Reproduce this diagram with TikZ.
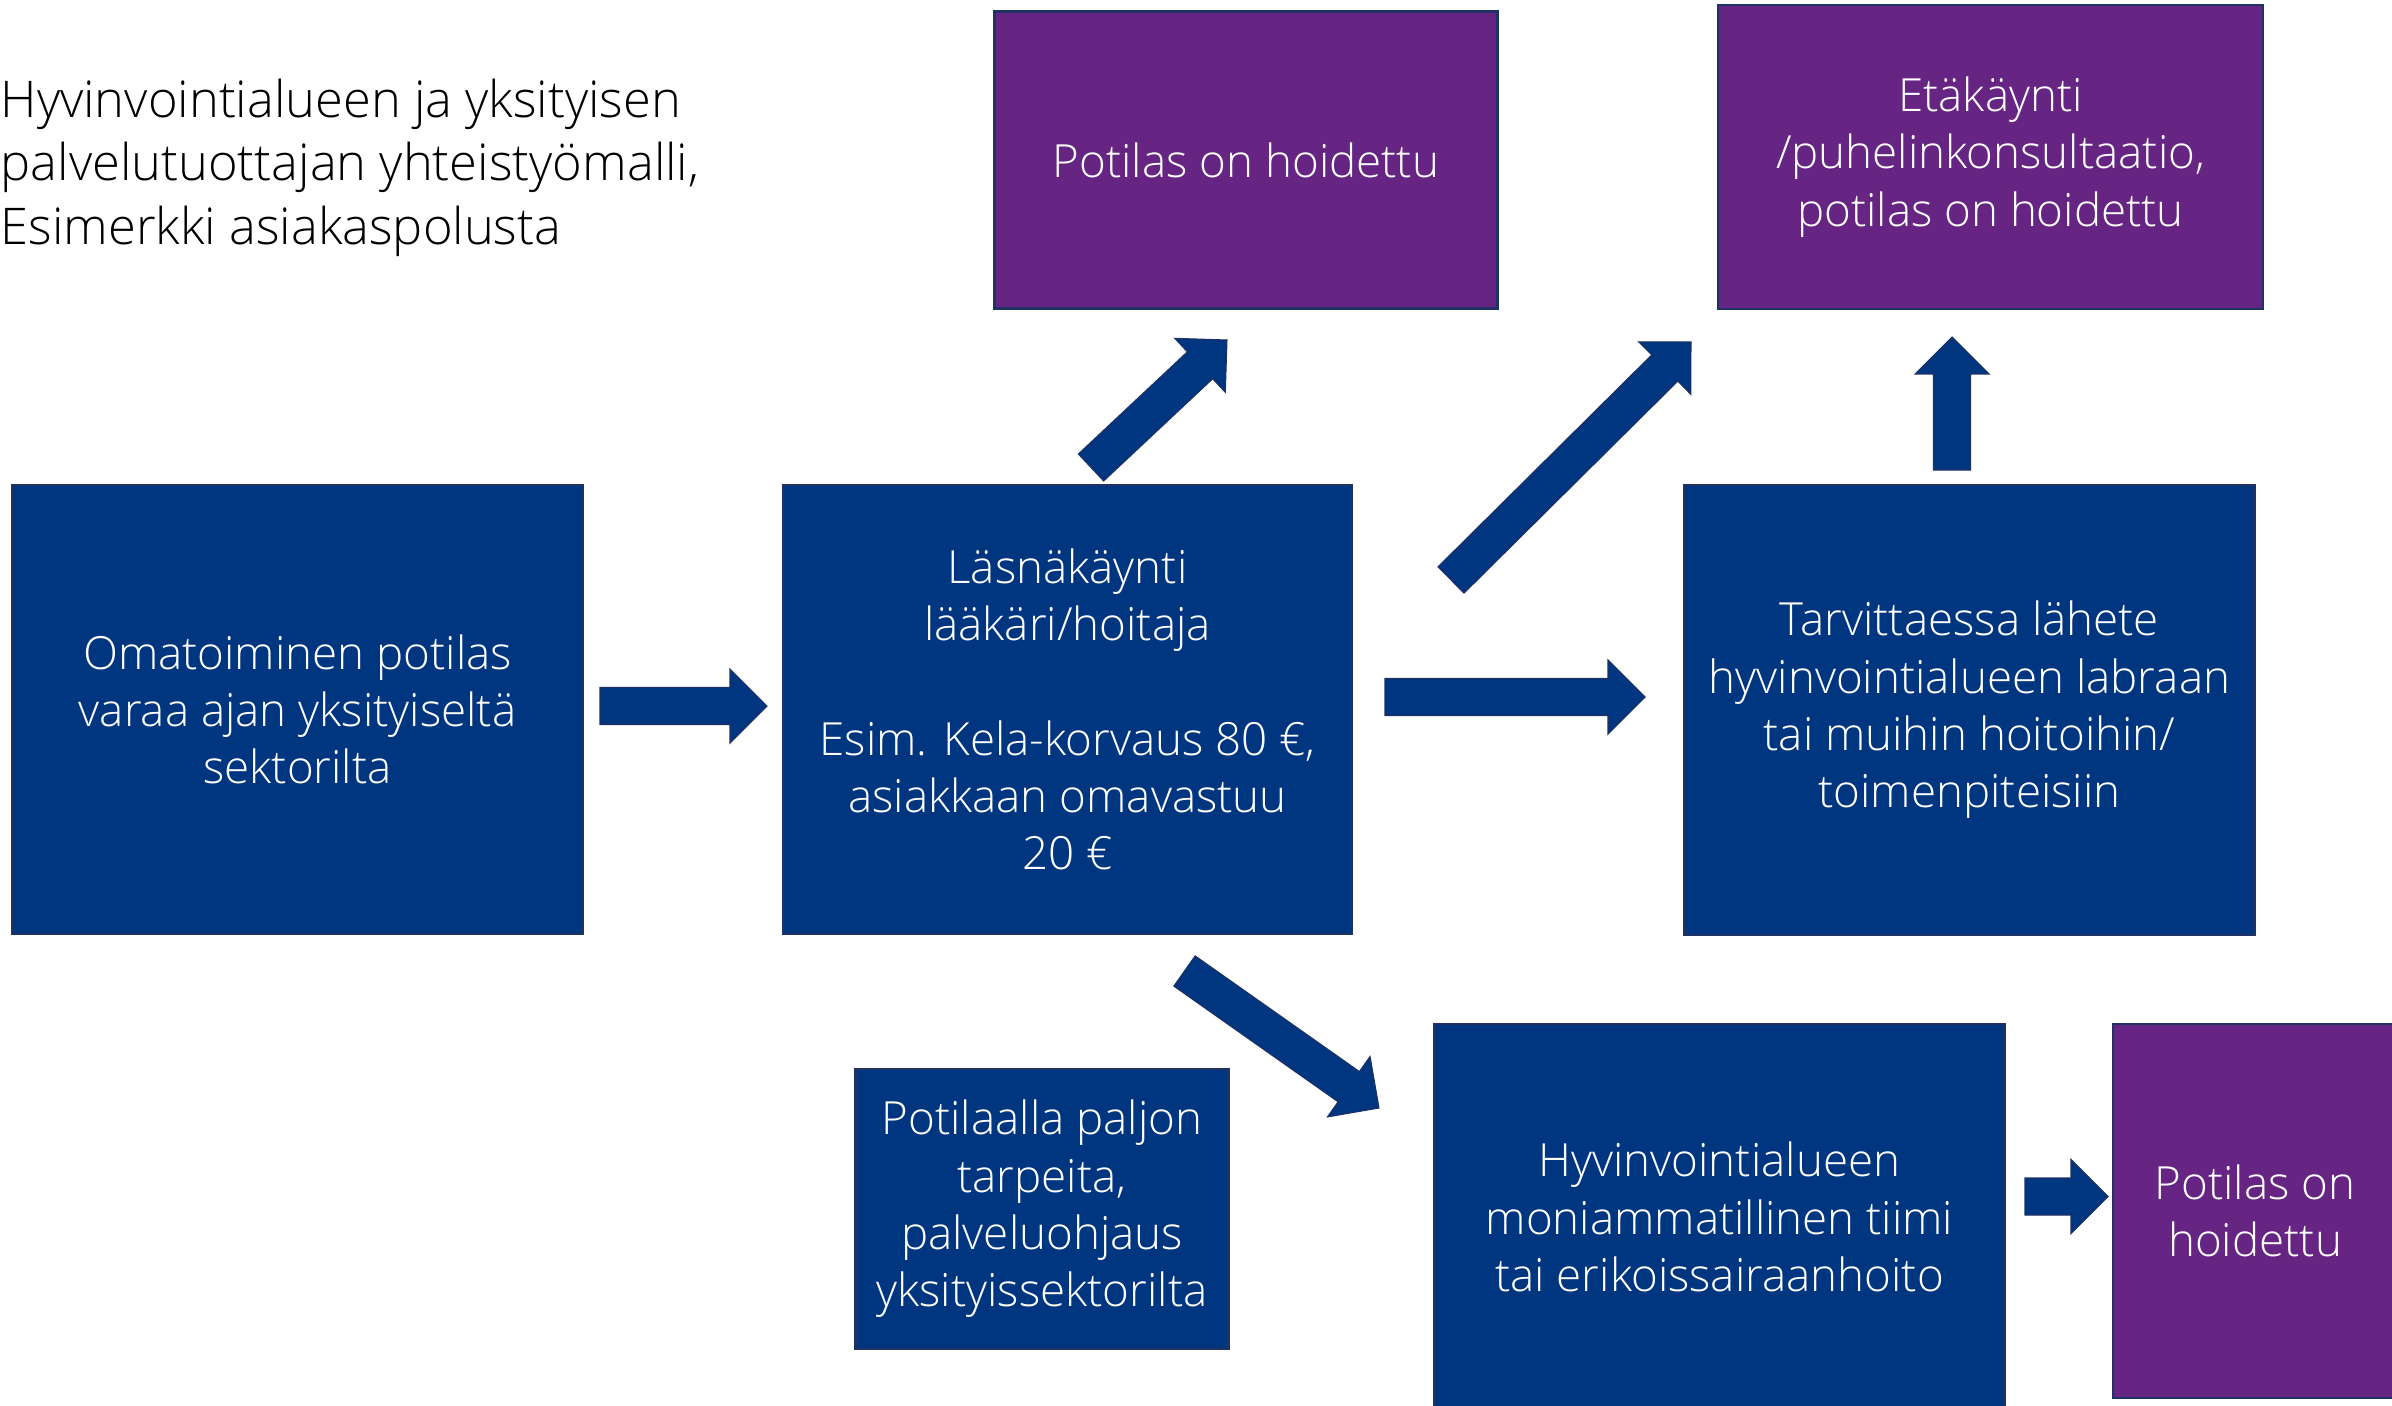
\documentclass[tikz,border=0pt]{standalone}
\usepackage{fontspec}
\IfFontExistsTF{Open Sans Light}{\setmainfont{Open Sans Light}}{\setmainfont{Open Sans}}
\usetikzlibrary{calc,positioning}

\definecolor{boxblue}{RGB}{0,53,128}
\definecolor{boxpurple}{RGB}{102,36,131}
\definecolor{boxedge}{RGB}{31,50,99}

\tikzset{
  bluebox/.style={draw=boxedge, line width=0.6pt, fill=boxblue, text=white,
    align=center, inner sep=0pt, font=\fontsize{13}{16.3}\selectfont},
  purplebox/.style={bluebox, fill=boxpurple},
  titletext/.style={anchor=north west, align=left, inner sep=0pt,
    font=\fontsize{14.4}{18.1}\selectfont},
}

% block arrow from tail coordinate to tip coordinate
\newcommand{\blockarrow}[2]{%
  \coordinate (ab) at ($(#2)!0.37cm!(#1)$);
  \filldraw[fill=boxblue, draw=boxedge, line width=0.3pt]
    ($(#1)!0.185cm!90:(#2)$) -- ($(ab)!0.185cm!-90:(#1)$) -- ($(ab)!0.37cm!-90:(#1)$)
    -- (#2) -- ($(ab)!0.37cm!90:(#1)$) -- ($(ab)!0.185cm!90:(#1)$)
    -- ($(#1)!0.185cm!-90:(#2)$) -- cycle;
}

\begin{document}
\begin{tikzpicture}
  \path[use as bounding box, fill=white] (0,0) rectangle (23.92,-14.06);

  \node[titletext] (title) at (0,-0.78) {Hyvinvointialueen ja yksityisen\\palvelutuottajan yhteistyömalli,\\Esimerkki asiakaspolusta};

  % boxes
  \node[bluebox, minimum width=5.71cm, minimum height=4.49cm] (omat) at (2.975,-7.095) {Omatoiminen potilas\\varaa ajan yksityiseltä\\sektorilta};
  \node[bluebox, minimum width=5.69cm, minimum height=4.49cm] (lasna) at (10.675,-7.095) {Läsnäkäynti\\lääkäri/hoitaja\\[16.3pt]Esim. Kela-korvaus 80 €,\\asiakkaan omavastuu\\20 €};
  \node[purplebox, minimum width=5.03cm, minimum height=2.97cm] (hoid1) at (12.46,-1.60) {Potilas on hoidettu};
  \node[purplebox, minimum width=5.45cm, minimum height=3.04cm] (eta) at (19.905,-1.57) {Etäkäynti\\/puhelinkonsultaatio,\\potilas on hoidettu};
  \node[bluebox, minimum width=5.71cm, minimum height=4.50cm] (lahete) at (19.695,-7.10) {Tarvittaessa lähete\\hyvinvointialueen labraan\\tai muihin hoitoihin/\\toimenpiteisiin};
  \node[bluebox, minimum width=3.73cm, minimum height=2.80cm] (ohjaus) at (10.42,-12.09) {Potilaalla paljon\\tarpeita,\\palveluohjaus\\yksityissektorilta};
  \node[bluebox, minimum width=5.71cm, minimum height=3.86cm] (tiimi) at (17.195,-12.17) {Hyvinvointialueen\\moniammatillinen tiimi\\tai erikoissairaanhoito};
  \node[purplebox, minimum width=2.84cm, minimum height=3.74cm] (hoid2) at (22.55,-12.11) {Potilas on\\hoidettu};

  % arrow ends
  \coordinate (a1) at (6.00,-7.06);    \coordinate (b1) at (7.67,-7.06);
  \coordinate (a2) at (13.85,-6.97);   \coordinate (b2) at (16.45,-6.97);
  \coordinate (a3) at (10.91,-4.675);  \coordinate (b3) at (12.27,-3.40);
  \coordinate (a4) at (14.51,-5.80);   \coordinate (b4) at (16.91,-3.42);
  \coordinate (a5) at (19.52,-4.70);   \coordinate (b5) at (19.52,-3.37);
  \coordinate (a6) at (11.845,-9.71);  \coordinate (b6) at (13.79,-11.08);
  \coordinate (a7) at (20.25,-11.965); \coordinate (b7) at (21.08,-11.965);

  \blockarrow{a1}{b1}
  \blockarrow{a2}{b2}
  \blockarrow{a3}{b3}
  \blockarrow{a4}{b4}
  \blockarrow{a5}{b5}
  \blockarrow{a6}{b6}
  \blockarrow{a7}{b7}
\end{tikzpicture}
\end{document}
